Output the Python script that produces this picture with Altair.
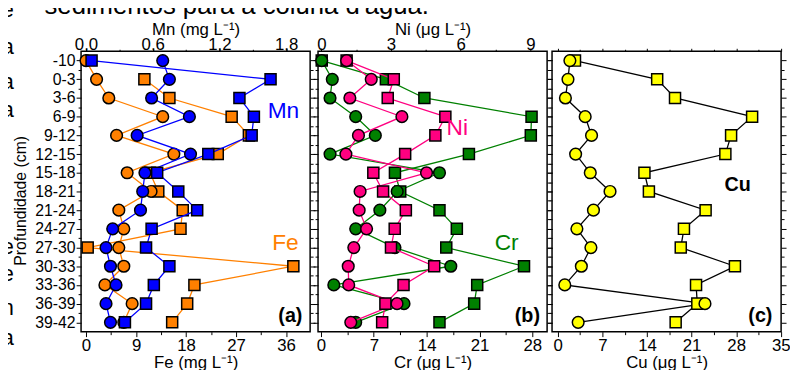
import json
import altair as alt
import pandas as pd

# ---------------- data ----------------
depths = ["-10", "0-3", "3-6", "6-9", "9-12", "12-15", "15-18", "18-21",
          "21-24", "24-27", "27-30", "30-33", "33-36", "36-39", "39-42"]

fe_circle = [0.0, 1.9, 4.1, 13.8, 5.5, 15.8, 7.4, 11.7, 5.9, 6.8, 5.9, 6.8, 3.4, 8.3, 6.8]
fe_square = [None, 10.5, 15.0, 26.2, 29.3, 23.7, 11.5, 13.0, 17.4, 17.0, 0.3, 37.3, 19.5, 18.2, 15.5]
mn_circle = [0.69, 0.75, 0.59, 0.93, 0.46, 0.94, 0.53, 0.51, 0.49, 0.24, 0.18, 0.22, 0.27, 0.18, 0.22]
mn_square = [0.05, 1.66, 1.38, 1.51, 1.49, 1.10, 0.64, 0.83, 1.00, 0.59, 0.54, 0.75, 0.61, 0.54, 0.35]

cr_circle = [0.1, 1.5, 1.2, 4.6, 7.2, 1.2, 15.7, 10.1, 7.8, 4.6, 9.8, 17.2, 1.7, 11.0, 4.6]
cr_square = [0.1, 8.6, 13.7, 27.9, 27.8, 19.6, 9.8, 10.5, 15.7, 18.0, 16.6, 26.9, 20.7, 20.3, 15.7]
ni_circle = [1.09, 2.15, 1.23, 3.47, 1.60, 1.06, 4.53, 1.67, 1.63, 1.95, 1.40, 1.16, 1.18, 3.26, 1.27]
ni_square = [1.09, 3.12, 2.86, 5.34, 4.91, 3.61, 2.24, 2.66, 3.64, 3.16, 3.00, 4.86, 3.54, 2.76, 2.62]

cu_circle = [1.9, 1.6, 1.2, 4.3, 5.3, 2.8, 5.1, 8.2, 5.6, 3.0, 5.2, 3.7, 1.1, 23.1, 3.2]
cu_square = [2.7, 15.6, 18.4, 30.5, 27.2, 26.3, 13.6, 14.3, 23.2, 19.8, 19.3, 27.8, 21.7, 21.9, 18.5]

fe_ticks = [0, 9, 18, 27, 36]
mn_ticks = [0.0, 0.6, 1.2, 1.8]
cr_ticks = [0, 7, 14, 21, 28]
ni_ticks = [0, 3, 6, 9]
cu_ticks = [0, 7, 14, 21, 28, 35]

top_text = "sedimentos para a coluna d'água."
side_letters = ["e", "a", "a", "a", "e", "e", "n", "a"]

# ---------------- style ----------------
FONT = "Liberation Sans"
ORANGE, BLUE, GREEN, PINK, YELLOW = "#FF8000", "#0000FF", "#008000", "#FF0080", "#FFFF00"
W, H = 232, 284

FE_DOM = [-0.89, 40.32]
MN_DOM = [FE_DOM[0] / 20, FE_DOM[1] / 20]
CR_DOM = [-0.39, 29.96]
NI_DOM = [-0.14, 9.72]
CU_DOM = [-0.9, 35.05]

YSCALE = alt.Scale(domain=[-0.5, 14.5], reverse=True, nice=False, zero=False)
Y_MAJ = list(range(len(depths)))
Y_MIN = [i + 0.5 for i in range(len(depths) - 1)]


def long_df(circle, square):
    rows = []
    for kind, vals in (("square", square), ("circle", circle)):
        for i, v in enumerate(vals):
            if v is not None:
                rows.append({"idx": i, "depth": depths[i], "kind": kind, "v": v})
    return pd.DataFrame(rows)


def xs(dom):
    return alt.Scale(domain=dom, nice=False, zero=False)


def halves(ticks):
    step = ticks[1] - ticks[0]
    out = [t + step / 2 for t in ticks]
    return [round(v, 4) for v in out]


def axis(orient, values, size, labels=False, title=None, expr=None, fmt=None,
         pad=1, tpad=1, **extra):
    kw = dict(orient=orient, values=values, tickSize=size, labels=labels,
              domain=False, grid=False, tickColor="black", tickWidth=1,
              labelFlush=False, labelOverlap=False, title=title,
              labelPadding=pad, titlePadding=tpad)
    if expr is not None:
        kw["labelExpr"] = expr
    if fmt is not None:
        kw["format"] = fmt
    kw.update(extra)
    return alt.Axis(**kw)


def ghost(df, dom, xaxis, yaxis):
    return alt.Chart(df).mark_point(opacity=0).encode(
        x=alt.X("v:Q", scale=xs(dom), axis=xaxis),
        y=alt.Y("idx:Q", scale=YSCALE, axis=yaxis),
    )


def series(df, dom, fill, line_color):
    base = alt.Chart(df).encode(
        x=alt.X("v:Q", scale=xs(dom), axis=None),
        y=alt.Y("idx:Q", scale=YSCALE, axis=None),
    )
    line = base.mark_line(color=line_color, strokeWidth=1.3).encode(
        detail="kind:N", order="idx:Q")
    sq = base.transform_filter(alt.datum.kind == "square").mark_point(
        shape="square", size=125, filled=True, fill=fill, stroke="black",
        strokeWidth=1.5, opacity=1)
    ci = base.transform_filter(alt.datum.kind == "circle").mark_point(
        shape="circle", size=140, filled=True, fill=fill, stroke="black",
        strokeWidth=1.5, opacity=1)
    return [line, sq, ci]


def label(text, x, y, color="black", size=23, weight="normal", align="center",
          baseline="middle"):
    return alt.Chart(pd.DataFrame({"t": [text]})).mark_text(
        font=FONT, fontSize=size, fontWeight=weight, color=color, align=align,
        baseline=baseline).encode(text="t:N", x=alt.value(x), y=alt.value(y))


label_expr = json.dumps(depths) + "[datum.value]"
comma_expr = "replace(format(datum.value, '.1f'), '.', ',')"

df_fe = long_df(fe_circle, fe_square)
df_mn = long_df(mn_circle, mn_square)
df_cr = long_df(cr_circle, cr_square)
df_ni = long_df(ni_circle, ni_square)
df_cu = long_df(cu_circle, cu_square)

TOP_PAD = -5
TOP_TPAD = -3

# ---------------- panel (a) ----------------
ya_major = axis("left", Y_MAJ, 5, labels=True, title="Profundidade (cm)",
                expr=label_expr, pad=1, tpad=6, titleFontSize=16, titleY=151)
layers_a = [
    ghost(df_fe, FE_DOM, axis("bottom", fe_ticks, 5, labels=True, title="Fe (mg L⁻¹)", fmt="d"), ya_major),
    ghost(df_fe, FE_DOM, axis("bottom", halves(fe_ticks), 3), axis("left", Y_MIN, 3)),
    ghost(df_mn, MN_DOM, axis("top", mn_ticks, 3, labels=True, title="Mn (mg L⁻¹)", expr=comma_expr,
                              pad=TOP_PAD, tpad=TOP_TPAD),
          axis("right", Y_MAJ, 5)),
    ghost(df_mn, MN_DOM, axis("top", halves(mn_ticks), 2), axis("right", Y_MIN, 3)),
]
layers_a += series(df_fe, FE_DOM, ORANGE, ORANGE)
layers_a += series(df_mn, MN_DOM, BLUE, BLUE)
layers_a += [
    label("Mn", 205, 61, BLUE),
    label("Fe", 207, 194, ORANGE),
    label("(a)", 212, 268, size=20, weight="bold"),
    label(top_text, -37, -38, size=26, align="left", baseline="alphabetic"),
]
letter_y = [-35, 3, 38, 67, 205, 233, 267, 297]
for ch, yy in zip(side_letters, letter_y):
    layers_a.append(label(ch, -68, yy, size=22, align="right", baseline="alphabetic"))

panel_a = alt.layer(*layers_a).properties(width=W, height=H).resolve_scale(
    x="independent").resolve_axis(x="independent", y="independent")

# ---------------- panel (b) ----------------
layers_b = [
    ghost(df_cr, CR_DOM, axis("bottom", cr_ticks, 5, labels=True, title="Cr (μg L⁻¹)", fmt="d"), axis("left", Y_MAJ, 5)),
    ghost(df_cr, CR_DOM, axis("bottom", halves(cr_ticks), 3), axis("left", Y_MIN, 3)),
    ghost(df_ni, NI_DOM, axis("top", ni_ticks, 3, labels=True, title="Ni (μg L⁻¹)", fmt="d",
                              pad=TOP_PAD, tpad=TOP_TPAD),
          axis("right", Y_MAJ, 5)),
    ghost(df_ni, NI_DOM, axis("top", halves(ni_ticks), 2), axis("right", Y_MIN, 3)),
]
layers_b += series(df_cr, CR_DOM, GREEN, GREEN)
layers_b += series(df_ni, NI_DOM, PINK, PINK)
layers_b += [
    label("Ni", 141, 78, PINK),
    label("Cr", 191, 194, GREEN),
    label("(b)", 212, 268, size=20, weight="bold"),
]
panel_b = alt.layer(*layers_b).properties(width=W, height=H).resolve_scale(
    x="independent").resolve_axis(x="independent", y="independent")

# ---------------- panel (c) ----------------
layers_c = [
    ghost(df_cu, CU_DOM, axis("bottom", cu_ticks, 5, labels=True, title="Cu (μg L⁻¹)", fmt="d"), axis("left", Y_MAJ, 5)),
    ghost(df_cu, CU_DOM, axis("bottom", halves(cu_ticks)[:-1], 3), axis("left", Y_MIN, 3)),
    ghost(df_cu, CU_DOM, axis("top", cu_ticks, 3), axis("right", Y_MAJ, 5)),
    ghost(df_cu, CU_DOM, axis("top", halves(cu_ticks)[:-1], 2), axis("right", Y_MIN, 3)),
]
layers_c += series(df_cu, CU_DOM, YELLOW, "black")
layers_c += [
    label("Cu", 188, 136, size=20, weight="bold"),
    label("(c)", 211, 268, size=20, weight="bold"),
]
panel_c = alt.layer(*layers_c).properties(width=W, height=H).resolve_scale(
    x="independent").resolve_axis(x="independent", y="independent")

inner = alt.hconcat(panel_b, panel_c, spacing=5, bounds="flush")
chart = alt.hconcat(panel_a, inner, spacing=8, bounds="flush").properties(
    padding={"left": -7, "top": -18.5, "right": -1, "bottom": -4}
).configure_axis(
    labelFont=FONT, titleFont=FONT, labelFontSize=17, titleFontSize=17,
    labelColor="black", titleColor="black", titleFontWeight="normal",
    tickColor="black",
).configure_axisY(labelFontSize=16).configure_view(
    stroke="black", strokeWidth=1.5
)

chart.save("out.html", embed_options={"renderer": "svg", "actions": False})
